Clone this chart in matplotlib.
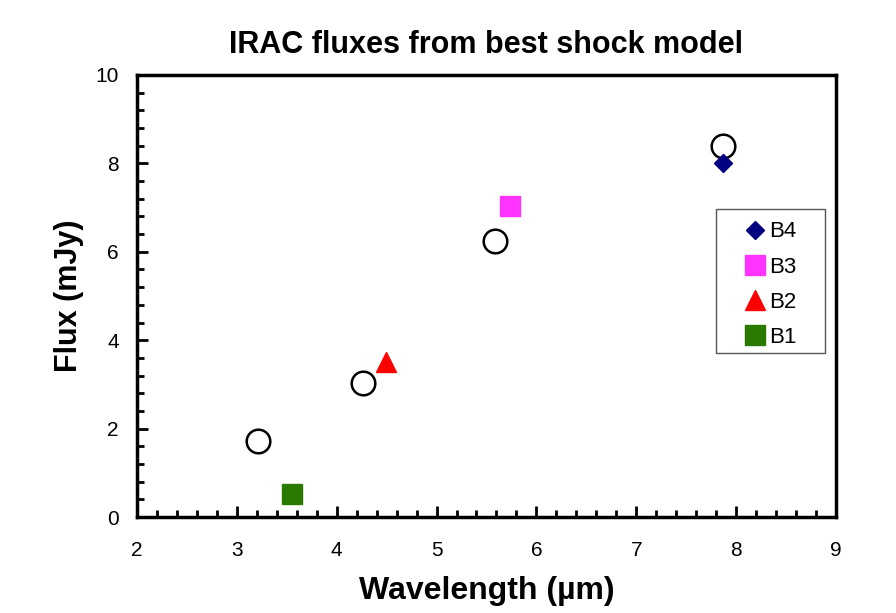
import matplotlib.pyplot as plt
from matplotlib.patches import Rectangle
from matplotlib.ticker import MultipleLocator

plt.rcParams['font.family'] = ['Liberation Sans', 'DejaVu Sans']

# best shock model predictions (open circles)
model_wl = [3.21, 4.26, 5.585, 7.87]
model_flux = [1.72, 3.03, 6.24, 8.39]

# observed IRAC bands
bands = ["B4", "B3", "B2", "B1"]
band_wl = [7.87, 5.735, 4.49, 3.55]
band_flux = [8.01, 7.04, 3.51, 0.52]
band_markers = ["D", "s", "^", "s"]
band_colors = ["#000080", "#ff33ff", "#ff0000", "#2a7a00"]
band_sizes = [9, 14, 14, 14]

fig = plt.figure(figsize=(8.96, 6.13), dpi=100)
ax = fig.add_axes([0.1529, 0.1566, 0.7801, 0.7211])

ax.plot(model_wl, model_flux, 'o', ms=17, mfc='white', mec='black', mew=1.8, ls='none')

for b, x, y, m, c, s in zip(bands, band_wl, band_flux, band_markers, band_colors, band_sizes):
    ax.plot([x], [y], marker=m, ms=s, color=c, ls='none', label=b)

ax.set_xlim(2, 9)
ax.set_ylim(0, 10)
ax.xaxis.set_major_locator(MultipleLocator(1))
ax.xaxis.set_minor_locator(MultipleLocator(0.2))
ax.yaxis.set_major_locator(MultipleLocator(2))
ax.yaxis.set_minor_locator(MultipleLocator(0.4))
ax.tick_params(which='both', direction='in', width=2, labelsize=15, top=False, right=False)
ax.tick_params(axis='x', which='major', length=8, pad=17)
ax.tick_params(axis='y', which='major', length=8, pad=13)
ax.tick_params(which='minor', length=5)
for sp in ax.spines.values():
    sp.set_linewidth(2.5)

ax.set_title("IRAC fluxes from best shock model", fontsize=22, fontweight='bold', pad=16)
ax.set_xlabel("Wavelength (µm)", fontsize=23, fontweight='bold', labelpad=12)
ax.set_ylabel("Flux (mJy)", fontsize=22, fontweight='bold', labelpad=8)

# legend box drawn separately so it can be wider than its entries
ax.add_patch(Rectangle((0.828, 0.371), 0.157, 0.326, transform=ax.transAxes,
                       facecolor='white', edgecolor='#555555', lw=1.0, zorder=4))
leg = ax.legend(loc='upper left', bbox_to_anchor=(0.8684, 0.669), fontsize=16, frameon=False,
                handletextpad=0.14, handlelength=1.0, labelspacing=0.64, borderpad=0,
                borderaxespad=0)
leg.set_zorder(5)

fig.savefig("out.png", dpi=100)
